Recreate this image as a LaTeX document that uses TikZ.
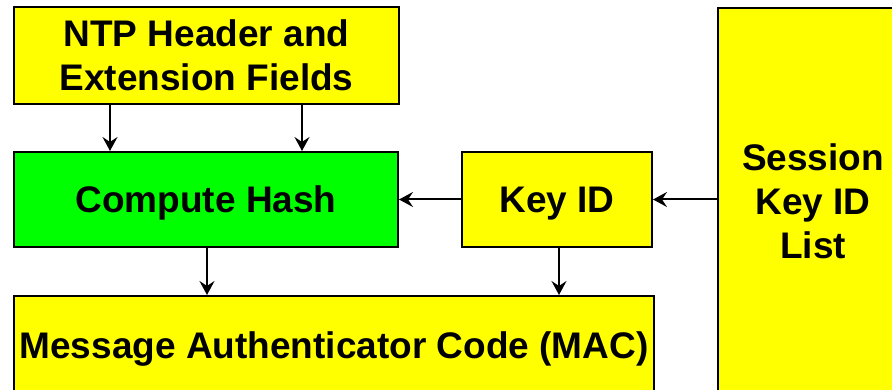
\documentclass[tikz,border=0pt]{standalone}
\usepackage{fontspec}
\setmainfont{Liberation Sans}
\usetikzlibrary{arrows.meta}
\definecolor{boxyellow}{RGB}{255,255,0}
\definecolor{boxgreen}{RGB}{0,255,0}
\tikzset{
  blk/.style={draw=black, line width=2pt, rectangle, inner sep=0pt, align=center,
    font=\fontsize{37}{44}\selectfont\bfseries, text=black},
  ybox/.style={blk, fill=boxyellow},
  gbox/.style={blk, fill=boxgreen},
  oneline/.style={text depth=0pt},
  conn/.style={line width=2pt, -{Stealth[length=14pt, width=15pt, inset=5pt]}},
}
\begin{document}
\begin{tikzpicture}[x=1pt, y=-1pt]
\useasboundingbox (0,0) rectangle (892,390);
\clip (0,0) rectangle (892,390);
\node[ybox, minimum width=385pt, minimum height=97pt] (ntp) at (206.5,55.5) {NTP Header and\\Extension Fields};
\node[gbox, oneline, minimum width=384pt, minimum height=95pt] (hash) at (206,199.5) {Compute Hash};
\node[ybox, oneline, minimum width=190pt, minimum height=95pt] (keyid) at (557,199.5) {Key ID};
\node[ybox, minimum width=190pt, minimum height=386pt] (sess) at (813,201) {Session\\Key ID\\List};
\node[ybox, oneline, minimum width=640pt, minimum height=98pt] (mac) at (334,345) {Message Authenticator Code (MAC)};
\coordinate (n1) at (110,0);
\coordinate (n2) at (302,0);
\coordinate (m1) at (207,0);
\coordinate (m2) at (559,0);
\draw[conn] (ntp.south -| n1) -- (hash.north -| n1);
\draw[conn] (ntp.south -| n2) -- (hash.north -| n2);
\draw[conn] (hash.south -| m1) -- (mac.north -| m1);
\draw[conn] (keyid.south -| m2) -- (mac.north -| m2);
\draw[conn] (keyid.west) -- (hash.east |- keyid.west);
\draw[conn] (sess.west |- keyid.east) -- (keyid.east);
\end{tikzpicture}
\end{document}
